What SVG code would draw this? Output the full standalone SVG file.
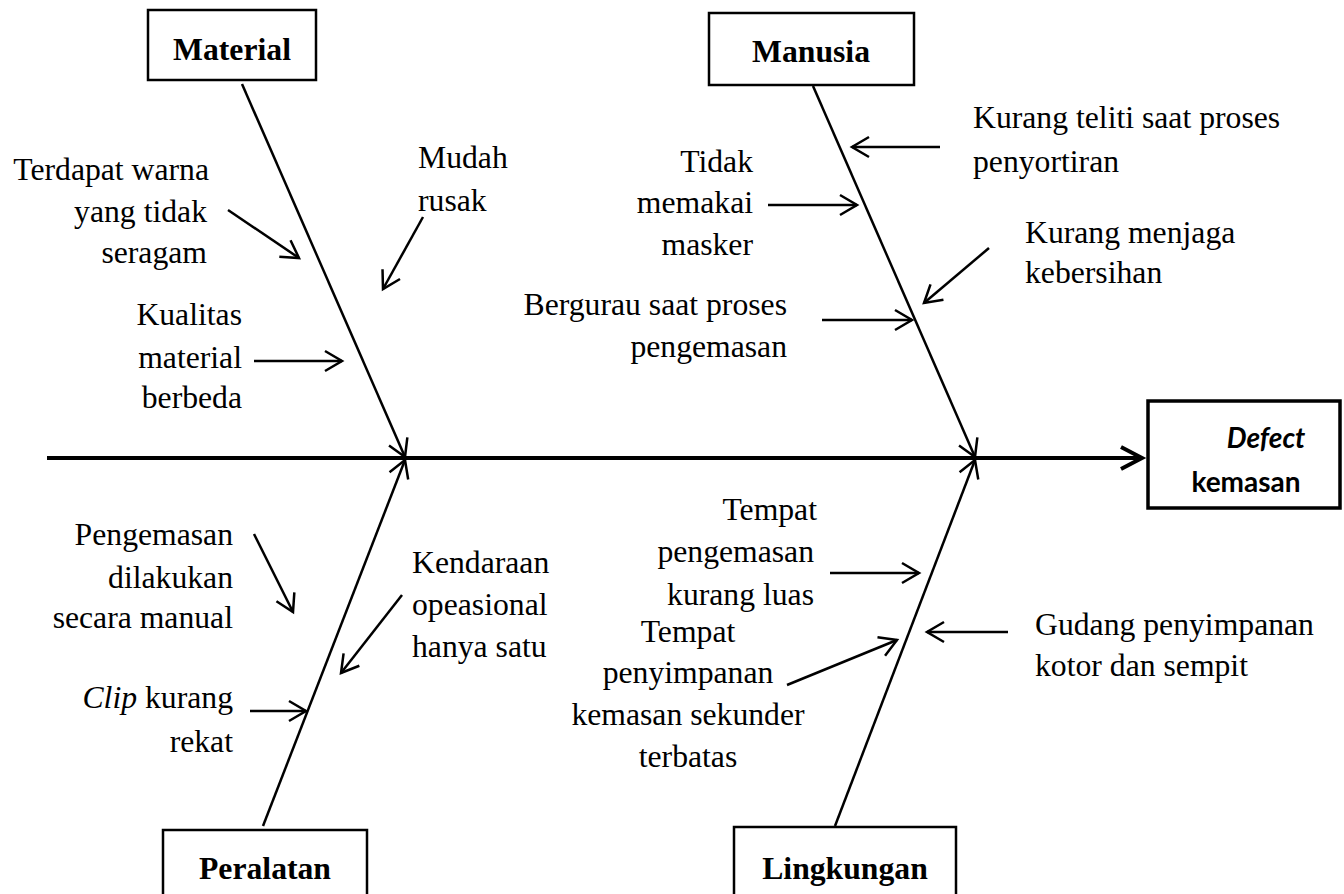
<svg xmlns="http://www.w3.org/2000/svg" width="1344" height="894" viewBox="0 0 1344 894">
<style>
.t{font-family:"Liberation Serif","Times New Roman",serif;font-size:31.7px;fill:#000}
.b{font-weight:bold}
.e{text-anchor:end}
.m{text-anchor:middle}
.box{fill:#fff;stroke:#000;stroke-width:2.5}
.bone{fill:none;stroke:#000;stroke-width:2.5;marker-end:url(#ah)}
.arr{fill:none;stroke:#000;stroke-width:2.5;marker-end:url(#ah)}
.eff{font-family:Lato,"Open Sans",sans-serif;font-weight:bold;font-size:28px;fill:#000;text-anchor:middle}
</style>
<defs>
<marker id="ah" markerUnits="userSpaceOnUse" markerWidth="40" markerHeight="40" viewBox="-20 -20 40 40" refX="0" refY="0" orient="auto" overflow="visible">
<path d="M-17,-10 L0,0 L-17,10" fill="none" stroke="#000" stroke-width="2.5"/>
</marker>
<marker id="ahs" markerUnits="userSpaceOnUse" markerWidth="50" markerHeight="50" viewBox="-25 -25 50 50" refX="0" refY="0" orient="auto" overflow="visible">
<path d="M-21,-11 L0,0 L-21,11" fill="none" stroke="#000" stroke-width="4"/>
</marker>
</defs>
<g id="connectors">
<line x1="47" y1="458" x2="1142" y2="458" stroke="#000" stroke-width="4" marker-end="url(#ahs)"/>
<line class="bone" x1="242" y1="84" x2="405" y2="457"/>
<line class="bone" x1="813" y1="86" x2="975" y2="457"/>
<line class="bone" x1="263" y1="826" x2="405" y2="460"/>
<line class="bone" x1="835" y1="826" x2="975" y2="460"/>
<line class="arr" x1="228" y1="210" x2="299" y2="258"/>
<line class="arr" x1="423" y1="217" x2="383" y2="289"/>
<line class="arr" x1="254" y1="361" x2="342" y2="361"/>
<line class="arr" x1="940" y1="147" x2="852" y2="147"/>
<line class="arr" x1="768" y1="205" x2="857" y2="205"/>
<line class="arr" x1="989" y1="248" x2="924" y2="303"/>
<line class="arr" x1="822" y1="320" x2="912" y2="320"/>
<line class="arr" x1="254" y1="534" x2="293" y2="612"/>
<line class="arr" x1="402" y1="595" x2="341" y2="673"/>
<line class="arr" x1="250" y1="711" x2="306" y2="711"/>
<line class="arr" x1="830" y1="573" x2="919" y2="573"/>
<line class="arr" x1="787" y1="685" x2="897" y2="640"/>
<line class="arr" x1="1008" y1="632" x2="927" y2="632"/>
</g>
<g id="material">
<rect class="box" x="148" y="10" width="168" height="70"/>
<text class="t b m" x="232" y="60">Material</text>
</g>
<g id="manusia">
<rect class="box" x="709" y="13" width="205" height="72"/>
<text class="t b m" x="811" y="62">Manusia</text>
</g>
<g id="peralatan">
<rect class="box" x="163" y="830" width="204" height="80"/>
<text class="t b m" x="265" y="879">Peralatan</text>
</g>
<g id="lingkungan">
<rect class="box" x="734" y="827" width="222" height="80"/>
<text class="t b m" x="845" y="879">Lingkungan</text>
</g>
<g id="effect">
<rect x="1148" y="401" width="192" height="107" fill="#fff" stroke="#000" stroke-width="3.5"/>
<text class="eff" x="1266" y="448" font-style="italic">Defect</text>
<text class="eff" x="1246" y="492">kemasan</text>
</g>
<g id="material-causes">
<text class="t e" x="209" y="180">Terdapat warna</text>
<text class="t e" x="207" y="222">yang tidak</text>
<text class="t e" x="207" y="263">seragam</text>
<text class="t" x="418" y="168">Mudah</text>
<text class="t" x="418" y="211">rusak</text>
<text class="t e" x="242" y="325">Kualitas</text>
<text class="t e" x="242" y="368">material</text>
<text class="t e" x="242" y="408">berbeda</text>
</g>
<g id="manusia-causes">
<text class="t" x="973" y="128">Kurang teliti saat proses</text>
<text class="t" x="973" y="172">penyortiran</text>
<text class="t e" x="753" y="172">Tidak</text>
<text class="t e" x="753" y="213">memakai</text>
<text class="t e" x="753" y="255">masker</text>
<text class="t" x="1025" y="243">Kurang menjaga</text>
<text class="t" x="1025" y="283">kebersihan</text>
<text class="t e" x="787" y="315">Bergurau saat proses</text>
<text class="t e" x="787" y="357">pengemasan</text>
</g>
<g id="peralatan-causes">
<text class="t e" x="233" y="545">Pengemasan</text>
<text class="t e" x="233" y="588">dilakukan</text>
<text class="t e" x="233" y="628">secara manual</text>
<text class="t" x="412" y="573">Kendaraan</text>
<text class="t" x="412" y="615">opeasional</text>
<text class="t" x="412" y="657">hanya satu</text>
<text class="t e" x="233" y="708"><tspan font-style="italic">Clip</tspan> kurang</text>
<text class="t e" x="233" y="752">rekat</text>
</g>
<g id="lingkungan-causes">
<text class="t e" x="817" y="520">Tempat</text>
<text class="t e" x="814" y="562">pengemasan</text>
<text class="t e" x="814" y="605">kurang luas</text>
<text class="t m" x="688" y="642">Tempat</text>
<text class="t m" x="688" y="683">penyimpanan</text>
<text class="t m" x="688" y="725">kemasan sekunder</text>
<text class="t m" x="688" y="767">terbatas</text>
<text class="t" x="1035" y="635">Gudang penyimpanan</text>
<text class="t" x="1035" y="676">kotor dan sempit</text>
</g>
</svg>
